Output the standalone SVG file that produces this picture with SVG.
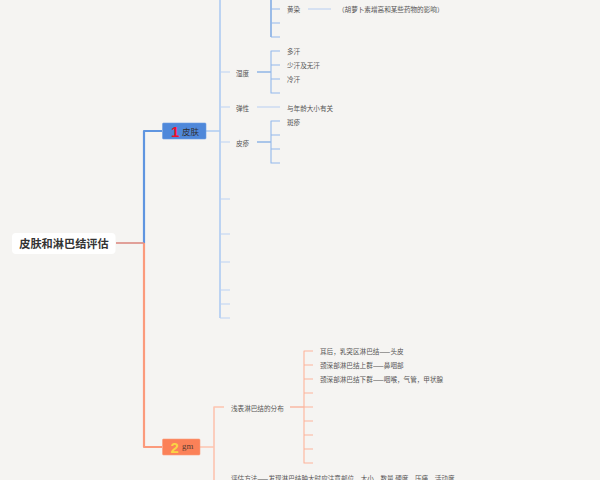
<svg xmlns="http://www.w3.org/2000/svg" width="600" height="480" viewBox="0 0 600 480">
<style>
text{font-family:"Noto Sans CJK SC","Liberation Sans",sans-serif;font-size:6.6px;fill:#555}
.c{fill:none;stroke-linejoin:round}
.b1{stroke:#5f95e0;stroke-width:2.2}
.b2{stroke:#aecbf2;stroke-width:1.6}
.b3{stroke:#93b8ec;stroke-width:1.1}
.b4{stroke:#bcd2f3;stroke-width:1.1}
.o1{stroke:#fb9a7c;stroke-width:2.2}
.o2{stroke:#fdc4b0;stroke-width:1.6}
.o3{stroke:#fdb49b;stroke-width:1.1}
</style>
<rect width="600" height="480" fill="#f5f4f2"/>
<g id="connectors">
<path class="c o1" d="M144 243V447H162"/>
<path class="c b1" d="M144 243V131H162"/>
<path class="c" stroke="#dd9189" stroke-width="1.7" d="M116 243H144"/>
<path class="c b2" d="M206 131H220M220 0V318"/>
<path class="c b4" d="M220 72H230M220 107H230M220 142H230M220 199H230M220 234H230M220 262H230M220 290H230M220 304H230M220 318H230"/>
<path class="c b1" style="stroke-width:1.2" d="M271 0V37"/>
<path class="c b3" d="M271 9H280M271 23H280M271 37H280"/>
<path class="c b4" d="M308 9H331"/>
<path class="c b1" style="stroke-width:1.1" d="M257 72H271M257 142H271"/>
<path class="c b3" d="M280 51H271V93H280M271 65H280M271 79H280"/>
<path class="c b4" d="M257 107H280"/>
<path class="c b3" d="M280 121H271V163H280M271 135H280M271 149H280"/>
<path class="c o2" d="M200 447H214M224 407H214V480"/>
<path class="c" stroke="#fb9a7c" stroke-width="1" d="M290 407H304"/>
<path class="c o3" d="M313 351H304V463H313M304 365H313M304 379H313M304 393H313M304 407H313M304 421H313M304 435H313M304 449H313"/>
</g>
<g id="root"><rect x="12" y="233" width="103.500" height="21" rx="4" fill="#fff"/><text x="64" y="248" text-anchor="middle" style="font-size:11.200px;font-weight:700;fill:#333">皮肤和淋巴结评估</text></g>
<g id="node-1"><rect x="162.500" y="123" width="43.500" height="16" rx="1" fill="#4f88da" stroke="#6d9de3" stroke-width=".6"/><text x="171" y="136.500" style="font-family:'Liberation Sans',sans-serif;font-size:15px;font-weight:700;fill:#f0102c">1</text><text x="182" y="134.500" style="font-size:8.500px;fill:#2f2f2f">皮肤</text></g>
<g id="node-2"><rect x="162.500" y="439" width="37.500" height="16" rx="1" fill="#fb8158" stroke="#fc9d7d" stroke-width=".6"/><text x="170.500" y="452.500" style="font-family:'Liberation Sans',sans-serif;font-size:15px;font-weight:700;fill:#fad444">2</text><text x="182" y="449" style="font-family:'Liberation Serif',serif;font-size:8.800px;fill:#5a3a30">gm</text></g>
<g id="n-huangran"><text x="287" y="12">黄染</text></g>
<g id="n-huangran-note"><text x="338" y="12">（胡萝卜素增高和某些药物的影响）</text></g>
<g id="n-shidu"><text x="236" y="75.500">湿度</text></g>
<g id="n-duohan"><text x="287" y="54">多汗</text></g>
<g id="n-shaohan"><text x="287" y="68">少汗及无汗</text></g>
<g id="n-lenghan"><text x="287" y="82">冷汗</text></g>
<g id="n-tanxing"><text x="236" y="110.500">弹性</text></g>
<g id="n-nianling"><text x="287" y="110.500">与年龄大小有关</text></g>
<g id="n-pizhen"><text x="236" y="145.500">皮疹</text></g>
<g id="n-banzhen"><text x="287" y="124.500">斑疹</text></g>
<g id="n-fenbu"><text x="231" y="410.500">浅表淋巴结的分布</text></g>
<g id="n-erhou"><text x="320" y="354">耳后，乳突区淋巴结——头皮</text></g>
<g id="n-shang"><text x="320" y="368">颈深部淋巴结上群——鼻咽部</text></g>
<g id="n-xia"><text x="320" y="382">颈深部淋巴结下群——咽喉，气管，甲状腺</text></g>
<g id="n-pinggu"><text x="231" y="481">评估方法——发现淋巴结肿大时应注意部位、大小、数量 硬度、压痛、活动度、</text></g>
</svg>
